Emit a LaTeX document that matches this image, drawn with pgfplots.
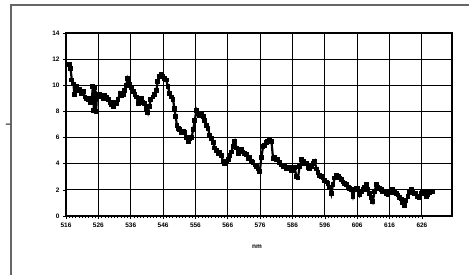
\documentclass[border=0pt]{standalone}
\usepackage{pgfplots}
\pgfplotsset{compat=1.18}
\usepackage{pgfplotstable}
\usepackage{fontspec}
\setmainfont{Liberation Sans}
\pgfplotstableread{
x y
517.0 11.6
517.4 11.3
517.8 10.4
518.3 10.1
518.6 9.3
518.8 9.8
519.2 9.9
519.7 9.6
520.2 9.7
520.8 9.4
521.3 9.5
521.9 9.1
522.4 9.0
523.0 8.9
523.5 8.7
524.0 9.0
524.3 9.9
524.6 8.1
524.9 9.8
525.3 8.0
525.6 9.3
526.0 9.1
526.5 9.3
527.0 9.2
527.5 9.0
528.0 9.2
528.6 9.1
529.1 8.9
529.6 8.7
530.1 8.5
530.6 8.4
531.1 8.7
531.6 8.6
532.1 8.9
532.7 9.4
533.2 9.2
533.7 9.3
534.2 9.6
534.6 10.0
535.0 10.5
535.3 10.3
535.7 10.1
536.3 9.8
536.8 9.5
537.3 9.3
537.8 9.1
538.3 8.6
538.8 8.8
539.3 9.0
539.8 8.7
540.3 8.6
540.8 8.2
541.3 7.9
541.7 8.4
542.2 8.9
542.9 9.1
543.4 9.3
543.9 9.6
544.4 10.3
545.0 10.7
545.5 10.8
546.0 10.7
546.5 10.5
547.0 10.4
547.5 9.9
548.0 9.4
548.6 9.1
549.1 8.9
549.5 8.2
549.9 7.6
550.3 6.9
550.7 6.7
551.2 6.6
551.7 6.4
552.2 6.5
552.7 6.4
553.2 6.0
553.8 5.7
554.3 5.9
554.8 6.0
555.3 6.6
555.8 7.3
556.3 8.1
556.8 7.8
557.3 7.7
557.8 7.8
558.4 7.6
558.9 7.3
559.4 6.9
559.9 6.7
560.4 6.2
560.9 5.9
561.5 5.6
562.0 5.2
562.5 5.0
563.0 4.8
563.5 4.9
564.0 4.6
564.6 4.2
565.1 4.0
565.6 4.2
566.1 4.3
566.6 4.6
567.1 4.9
567.6 5.3
568.2 5.7
568.7 5.2
569.2 4.8
569.7 5.0
570.2 5.1
570.7 4.9
571.2 4.8
571.8 4.7
572.3 4.4
572.8 4.5
573.3 4.2
573.8 4.1
574.4 3.9
574.9 3.8
575.4 3.6
575.9 3.4
576.4 4.5
576.9 5.3
577.4 5.4
577.9 5.6
578.4 5.7
579.0 5.8
579.5 5.7
580.0 4.4
580.5 4.5
581.0 4.3
581.5 4.3
582.0 4.1
582.6 3.9
583.1 3.8
583.6 3.9
584.1 3.6
584.6 3.6
585.1 3.7
585.7 3.5
586.2 3.5
586.7 3.7
587.2 3.0
587.7 2.9
588.2 3.8
588.8 4.3
589.3 4.2
589.8 4.0
590.3 4.0
590.8 3.7
591.3 3.6
591.8 3.8
592.4 4.0
592.9 4.2
593.4 3.6
593.9 3.3
594.4 3.1
594.9 3.0
595.4 2.9
596.0 2.7
596.5 2.6
597.0 2.5
597.5 2.2
598.0 1.7
598.5 2.4
599.1 2.9
599.6 3.1
600.1 3.0
600.6 2.9
601.1 2.8
601.6 2.6
602.1 2.5
602.6 2.4
603.2 2.2
603.7 2.1
604.2 2.0
604.7 1.5
605.2 2.0
605.7 2.1
606.2 2.1
606.8 1.6
607.3 1.9
607.8 2.0
608.3 2.2
608.8 2.4
609.3 2.0
609.8 1.7
610.3 1.4
610.8 1.1
611.4 1.9
611.9 2.4
612.4 2.2
612.9 2.1
613.4 2.0
613.9 1.9
614.5 1.9
615.0 1.7
615.5 1.6
616.0 1.8
616.5 1.9
617.0 2.0
617.6 1.8
618.1 1.7
618.6 1.6
619.1 1.4
619.6 1.3
620.1 1.0
620.6 0.8
621.1 1.2
621.7 1.5
622.2 1.8
622.7 2.0
623.2 1.9
623.7 1.7
624.2 1.7
624.7 1.5
625.3 1.4
625.8 1.7
626.3 1.9
626.8 1.8
627.3 1.5
627.8 1.6
628.3 1.8
628.9 1.9
629.4 1.9
}\spectrum
\begin{document}
\begin{tikzpicture}
\useasboundingbox (0,0) rectangle (469bp,275bp);
\draw[gray!80!black, line width=1.4bp] (11bp,-5bp) -- (11bp,270bp) -- (475bp,270bp);
\begin{axis}[
  at={(66bp,59bp)}, anchor=south west,
  scale only axis, width=386bp, height=183bp,
  xmin=516, xmax=635.3, ymin=0, ymax=14,
  xtick={516,526,...,626}, ytick={0,2,...,14},
  minor x tick num=9,
  tick align=outside,
  major tick length=3bp, minor tick length=2bp,
  every tick/.style={black, line width=0.6bp},
  xtick pos=bottom, ytick pos=left,
  grid=major,
  major grid style={black, line width=0.9bp},
  axis line style={black, line width=1.6bp},
  tick label style={font=\fontsize{6.5}{7}\selectfont\bfseries},
  /pgf/number format/assume math mode=true,
  /pgf/number format/1000 sep={},
  xlabel={nm}, ylabel={I},
  label style={font=\fontsize{6.5}{7}\selectfont\bfseries},
  xlabel style={at={(axis description cs:0.495,-0.17)}, anchor=center},
  ylabel style={at={(axis description cs:-0.15,0.5)}, anchor=center},
  clip=false,
]
\addplot[black, line width=2.2bp, mark=square*, mark size=1.3bp] table[x=x,y=y] {\spectrum};
\end{axis}
\end{tikzpicture}
\end{document}
